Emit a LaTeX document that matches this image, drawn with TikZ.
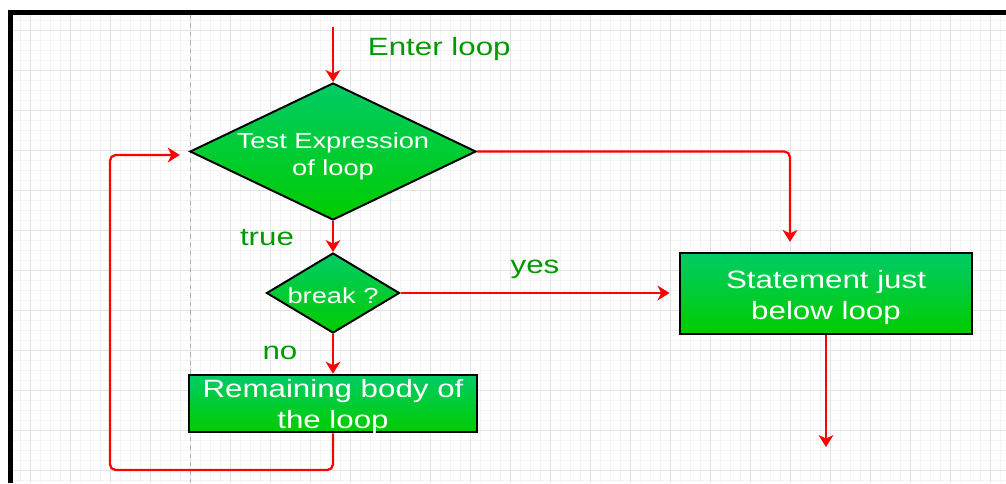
\documentclass[tikz,border=0pt]{standalone}
\usepackage{fontspec}
\setmainfont{Liberation Sans}[FakeStretch=1.25]
\usetikzlibrary{arrows.meta,positioning,shapes.geometric,calc}
\definecolor{flred}{HTML}{FF0000}
\definecolor{flgreen}{HTML}{009900}
\definecolor{fltop}{HTML}{00CC66}
\definecolor{flbot}{HTML}{00CC00}

\begin{document}
\begin{tikzpicture}[
    x=0.025cm, y=-0.025cm,
    flowbox/.style={rectangle, draw=black, line width=1.8pt,
                    top color=fltop, bottom color=flbot, inner sep=0pt},
    testshape/.style={diamond, draw=black, line width=1.4pt,
                      top color=fltop, bottom color=flbot, inner sep=0pt},
    shapetext/.style={text=white, align=center,
                      font=\fontsize{15.5}{19.2}\selectfont},
    boxtext/.style={text=white, align=center,
                    font=\fontsize{17.8}{21.8}\selectfont},
    edgetext/.style={text=flgreen, font=\fontsize{17.8}{21.5}\selectfont},
    flow/.style={draw=flred, line width=1.6pt, rounded corners=4pt,
                 -{Stealth[length=8.5pt, width=10.5pt, inset=2.5pt]}}
  ]

  \useasboundingbox (0,0) rectangle (1006,483);

  % ---- Grid ----
  \foreach \gx in {20,30,...,1000}
    \draw[gray!9, line width=0.5pt] (\gx,12) -- (\gx,483);
  \foreach \gy in {20,30,...,480}
    \draw[gray!9, line width=0.5pt] (10,\gy) -- (1006,\gy);
  \foreach \gx in {30,70,...,990}
    \draw[gray!22, line width=0.5pt] (\gx,12) -- (\gx,483);
  \foreach \gy in {30,70,...,470}
    \draw[gray!22, line width=0.5pt] (10,\gy) -- (1006,\gy);
  \draw[gray!60, dashed, line width=0.5pt] (190,15) -- (190,483);

  % ---- Frame ----
  \draw[black, line width=3.6pt] (10.5,483) -- (10.5,12.5) -- (1006,12.5);

  % ============ Shapes ============

  \node[testshape, minimum width=7.15cm, minimum height=3.425cm,
        label={[shapetext, yshift=-0.11cm]center:{Test Expression\\of loop}}]
    (test) at (333,151.5) {};

  \node[testshape, minimum width=3.325cm, minimum height=2cm,
        label={[shapetext, yshift=-0.06cm]center:{break ?}}]
    (brk) at (333,293) {};

  \node[flowbox, minimum width=7.2cm, minimum height=1.425cm,
        label={[boxtext, yshift=-0.07cm]center:{Remaining body of\\the loop}}]
    (body) at (333,403.5) {};

  \node[flowbox, minimum width=7.3cm, minimum height=2.025cm,
        label={[boxtext, yshift=-0.1cm]center:{Statement just\\below loop}}]
    (stmt) at (826,293.5) {};

  % ---- Labels ----
  \node[edgetext, anchor=west] (entertxt) at (363,49) {Enter loop};
  \node[edgetext] (truetxt) at (267,238) {true};
  \node[edgetext] (notxt) at (280,353) {no};
  \node[edgetext] (yestxt) at (535,269) {yes};

  % ---- Free ends ----
  \coordinate (enter) at (333,27);
  \coordinate (exit) at (826,447);
  \coordinate (back) at (110,470);
  \coordinate (backin) at (110,155);

  % ============ Connectors ============
  \draw[flow] (enter) -- (test.north);
  \draw[flow] (test.south) -- (brk.north);
  \draw[flow] (brk.south) -- (body.north);
  \draw[flow, shorten >=6.5pt] (brk.east) -- (stmt.west |- brk.east);
  \draw[flow, shorten >=7pt] (test.east) -| ($(stmt.north)+(-36,0)$);
  \draw[flow, shorten >=6.5pt]
    (body.south) |- (back) -- (backin) -- (test.west |- backin);
  \draw[flow] (stmt.south) -- (exit);

\end{tikzpicture}
\end{document}
